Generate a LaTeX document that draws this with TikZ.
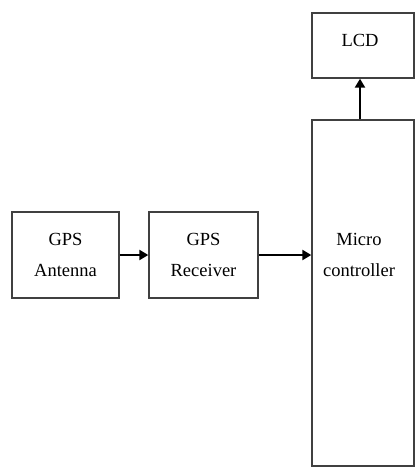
\documentclass[tikz,border=0pt]{standalone}
\usepackage{fontspec}
\setmainfont{Liberation Serif}
\usetikzlibrary{arrows.meta}
\begin{document}
\begin{tikzpicture}[x=1pt,y=1pt,
  box/.style={draw=black!75, line width=1.4pt, inner sep=0pt},
  txt/.style={align=center, font=\fontsize{18.5}{31}\selectfont, inner sep=0pt},
  arr/.style={line width=2.6pt, -{Triangle[length=9pt,width=10pt]}}]
\useasboundingbox (0,0) rectangle (415,-468);
\clip (0,0) rectangle (415,-468);
\node[box, minimum width=107pt, minimum height=86pt] (ant) at (65.5,-255) {};
\node[txt] (anttxt) at (ant.center) {GPS\\Antenna};
\node[box, minimum width=109pt, minimum height=86pt] (rec) at (203.5,-255) {};
\node[txt] (rectxt) at (rec.center) {GPS\\Receiver};
\node[box, minimum width=102pt, minimum height=346pt] (mic) at (363,-293) {};
\node[txt] (mictxt) at (359,-255) {Micro\\controller};
\node[box, minimum width=102pt, minimum height=65pt] (lcd) at (363,-45.5) {};
\node[txt] (lcdtxt) at (360,-40) {LCD};
\draw[arr] (ant.east) -- (rec.west);
\draw[arr] (rec.east) -- (rec.east -| mic.west);
\draw[arr] (mic.north -| lcdtxt) -- (lcd.south -| lcdtxt);
\end{tikzpicture}
\end{document}
